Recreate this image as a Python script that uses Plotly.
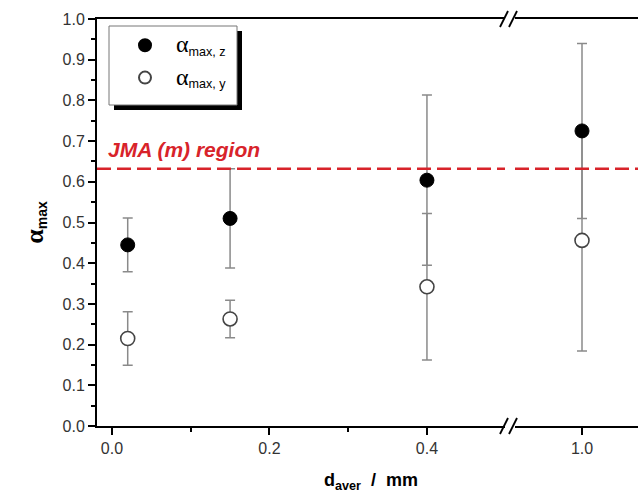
import plotly.graph_objects as go

# data
d_left = [0.02, 0.15, 0.4]
d_right = [1.0]
az_left = [0.445, 0.510, 0.604]
az_left_err = [0.066, 0.122, 0.209]
ay_left = [0.215, 0.263, 0.342]
ay_left_err = [0.066, 0.046, 0.180]
az_right = [0.725]
az_right_err = [0.215]
ay_right = [0.456]
ay_right_err = [0.272]
jma_level = 0.632

W, H = 638, 496
L, R, T, B = 97, 0, 19, 70
pw, ph = W - L - R, H - T - B
def px(x):
    return (x - L) / pw
def py(y):
    return 1 - (y - T) / ph

gap0, gap1 = 505, 515
dom1 = [0, px(gap0)]
dom2 = [px(gap1), 1]
rng1 = [-0.019, 0.4 + (gap0 - 427) / 787]
rng2 = [1.0 - (582 - gap1) / 787, 1.0 + (638 - 582) / 787]

err_style = dict(type='data', thickness=1.5, width=5, color='#8a8a8a')
filled = dict(symbol='circle', size=14, color='black', line=dict(color='black', width=1))
opened = dict(symbol='circle', size=14, color='white', line=dict(color='#444444', width=1.6))

lab_z = '<span style="font-family:Liberation Serif;font-size:24px">α</span><sub>max, z</sub>'
lab_y = '<span style="font-family:Liberation Serif;font-size:24px">α</span><sub>max, y</sub>'

fig = go.Figure()
fig.add_trace(go.Scatter(x=d_left, y=az_left, mode='markers', marker=filled,
                         error_y=dict(array=az_left_err, **err_style), legendgroup='z',
                         name=lab_z, xaxis='x', yaxis='y'))
fig.add_trace(go.Scatter(x=d_left, y=ay_left, mode='markers', marker=opened,
                         error_y=dict(array=ay_left_err, **err_style), legendgroup='y',
                         name=lab_y, xaxis='x', yaxis='y'))
fig.add_trace(go.Scatter(x=d_right, y=ay_right, mode='markers', marker=opened,
                         error_y=dict(array=ay_right_err, **err_style),
                         showlegend=False, xaxis='x2', yaxis='y'))
fig.add_trace(go.Scatter(x=d_right, y=az_right, mode='markers', marker=filled,
                         error_y=dict(array=az_right_err, **err_style),
                         showlegend=False, xaxis='x2', yaxis='y'))

tickfont = dict(family='Liberation Sans, Arial', size=16, color='#333333')
xcommon = dict(showline=True, linecolor='black', linewidth=2, mirror=True,
               ticks='outside', ticklen=7, tickwidth=2, tickcolor='black',
               showgrid=False, zeroline=False, tickfont=tickfont,
               minor=dict(ticks='outside', ticklen=4, tickwidth=2, tickcolor='black', dtick=0.1))

fig.update_layout(
    width=W, height=H, margin=dict(l=L, r=R, t=T, b=B),
    plot_bgcolor='white', paper_bgcolor='white',
    xaxis=dict(domain=dom1, range=rng1, tickvals=[0.0, 0.2, 0.4], ticktext=['0.0', '0.2', '0.4'],
               anchor='y', **xcommon),
    xaxis2=dict(domain=dom2, range=rng2, tickvals=[1.0], ticktext=['1.0'], anchor='y', **xcommon),
    yaxis=dict(range=[0, 1.0], domain=[0, 1], dtick=0.1, tickformat='.1f',
               showline=True, linecolor='black', linewidth=2, mirror=False,
               ticks='outside', ticklen=7, tickwidth=2, tickcolor='black',
               minor=dict(ticks='outside', ticklen=4, tickwidth=2, tickcolor='black', dtick=0.05),
               showgrid=False, zeroline=False, tickfont=tickfont,
               title=dict(text='<b><span style="font-family:Liberation Serif;font-size:26px">α</span><sub>max</sub></b>',
                          font=dict(family='Liberation Sans, Arial', size=20, color='black'), standoff=14)),
    showlegend=True,
    legend=dict(x=px(114), y=py(27), xanchor='left', yanchor='top', bgcolor='rgba(0,0,0,0)',
                borderwidth=0, font=dict(family='Liberation Sans, Arial', size=18, color='black'),
                itemsizing='constant', itemwidth=52, tracegroupgap=6, traceorder='grouped'),
)

shapes = []
# legend shadow and box
shapes.append(dict(type='rect', xref='paper', yref='paper', x0=px(114), x1=px(242), y0=py(110), y1=py(31),
                   fillcolor='black', line=dict(width=0), layer='above'))
shapes.append(dict(type='rect', xref='paper', yref='paper', x0=px(109), x1=px(237), y0=py(105), y1=py(26),
                   fillcolor='white', line=dict(color='#777777', width=1), layer='above'))
# JMA dashed line in both panels
for xr in ['x domain', 'x2 domain']:
    shapes.append(dict(type='line', xref=xr, yref='y', x0=0, x1=1, y0=jma_level, y1=jma_level,
                       line=dict(color='#d8232a', width=2.5, dash='14px,6px'), layer='above'))
# axis break marks
for yb in [T + ph, T]:
    for c in [504, 513]:
        shapes.append(dict(type='line', xref='paper', yref='paper', x0=px(c - 4), x1=px(c + 4),
                           y0=py(yb + 8), y1=py(yb - 8), line=dict(color='black', width=1.8)))
fig.update_layout(shapes=shapes)

fig.add_annotation(text='<b><i>JMA (m) region</i></b>', xref='paper', yref='paper',
                   x=px(106), y=py(150), xanchor='left', yanchor='middle', showarrow=False,
                   font=dict(family='Liberation Sans, Arial', size=21, color='#d8232a'))
fig.add_annotation(text='<b>d<sub>aver</sub>  /  mm</b>', xref='paper', yref='paper',
                   x=px(371), y=py(481), xanchor='center', yanchor='middle', showarrow=False,
                   font=dict(family='Liberation Sans, Arial', size=18, color='black'))

fig.write_html('out.html')
